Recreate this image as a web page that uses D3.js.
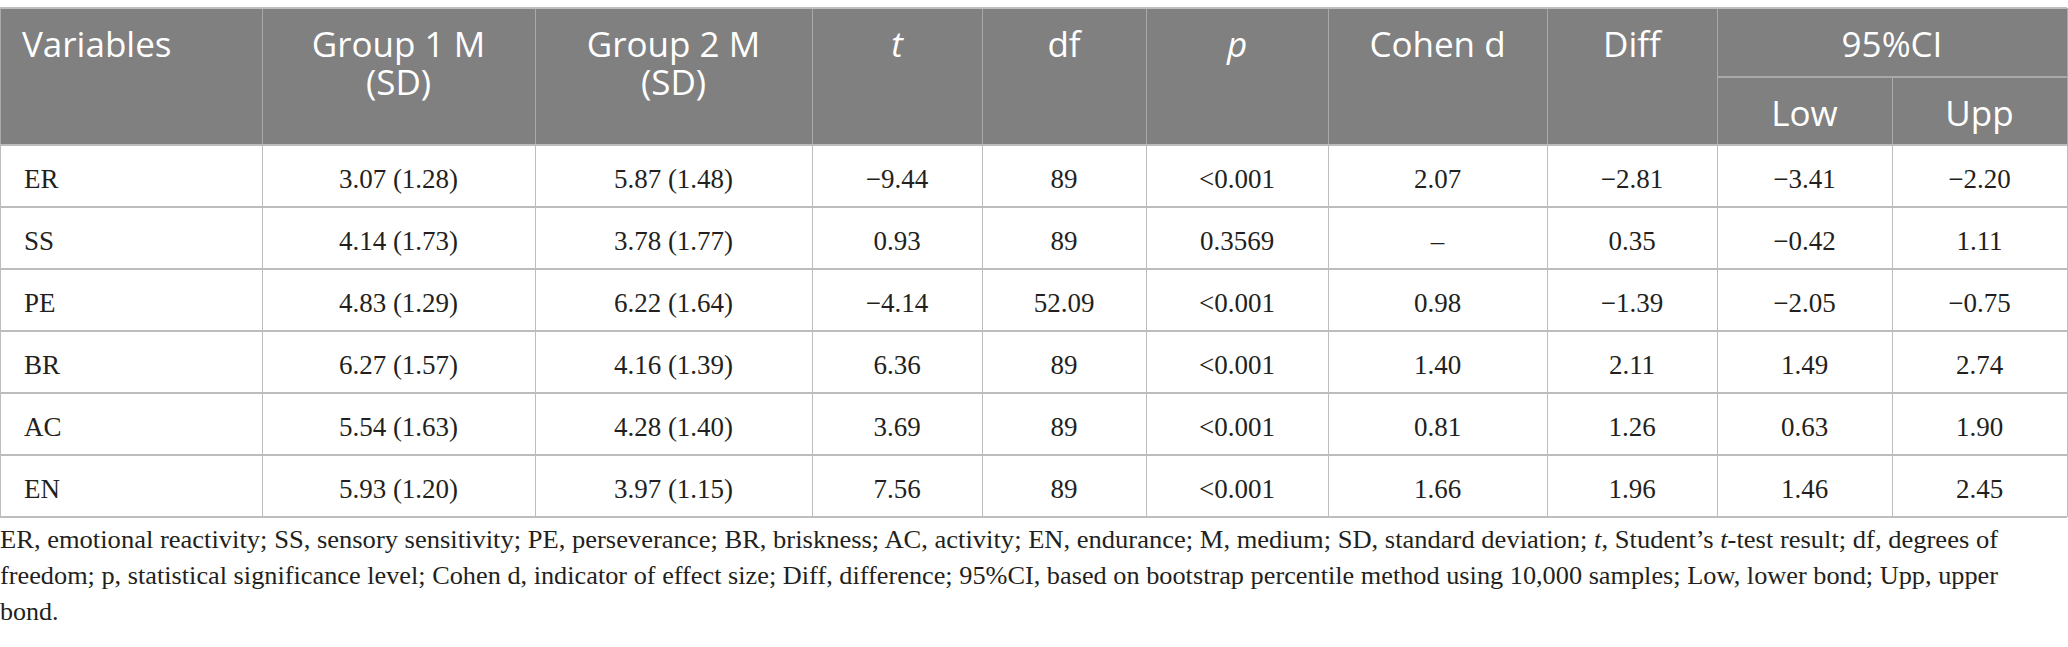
<!DOCTYPE html>
<html>
<head>
<meta charset="utf-8">
<script src="https://cdn.jsdelivr.net/npm/d3@7/dist/d3.min.js"></script>
<style>
  html, body { margin: 0; padding: 0; background: #fff; }
  svg { display: block; }
</style>
</head>
<body>
<div id="table"></div>
<script>
// table values, row by row
var variables = ['ER', 'SS', 'PE', 'BR', 'AC', 'EN'];
var group1Mean = [3.07, 4.14, 4.83, 6.27, 5.54, 5.93];
var group1SD = [1.28, 1.73, 1.29, 1.57, 1.63, 1.20];
var group2Mean = [5.87, 3.78, 6.22, 4.16, 4.28, 3.97];
var group2SD = [1.48, 1.77, 1.64, 1.39, 1.40, 1.15];
var tValues = [-9.44, 0.93, -4.14, 6.36, 3.69, 7.56];
var dfValues = ['89', '89', '52.09', '89', '89', '89'];
var pValues = ['<0.001', '0.3569', '<0.001', '<0.001', '<0.001', '<0.001'];
var cohenD = [2.07, null, 0.98, 1.40, 0.81, 1.66];
var diffValues = [-2.81, 0.35, -1.39, 2.11, 1.26, 1.96];
var ciLow = [-3.41, -0.42, -2.05, 1.49, 0.63, 1.46];
var ciUpp = [-2.20, 1.11, -0.75, 2.74, 1.90, 2.45];

// header labels (second entry = second line)
var headers = [
  ['Variables'], ['Group 1 M', '(SD)'], ['Group 2 M', '(SD)'],
  ['t'], ['df'], ['p'], ['Cohen d'], ['Diff']
];
var ciHeader = '95%CI';
var ciSubHeaders = ['Low', 'Upp'];

// footnote lines, [text, italic]
var footnote = [
  [['ER, emotional reactivity; SS, sensory sensitivity; PE, perseverance; BR, briskness; AC, activity; EN, endurance; M, medium; SD, standard deviation; ', false],
   ['t', true], [', Student\u2019s ', false], ['t', true], ['-test result; df, degrees of', false]],
  [['freedom; p, statistical significance level; Cohen d, indicator of effect size; Diff, difference; 95%CI, based on bootstrap percentile method using 10,000 samples; Low, lower bond; Upp, upper', false]],
  [['bond.', false]]
];

// layout
var width = 2068, height = 647;
var colEdges = [0, 262, 535, 812, 982, 1146, 1328, 1547, 1717, 1892, 2067];
var headTop = 8, headBottom = 145, tableBottom = 517, ciSplit = 77;
var headFont = '"Open Sans", sans-serif', bodyFont = '"Liberation Serif", "Times New Roman", serif';

var fmt2 = d3.format('.2f');
function num(v) {
  if (v == null) return '\u2013';
  return (v < 0 ? '\u2212' : '') + fmt2(Math.abs(v));
}

var rows = variables.map(function(v, i) {
  return [v,
    fmt2(group1Mean[i]) + ' (' + fmt2(group1SD[i]) + ')',
    fmt2(group2Mean[i]) + ' (' + fmt2(group2SD[i]) + ')',
    num(tValues[i]), dfValues[i], pValues[i], num(cohenD[i]),
    num(diffValues[i]), num(ciLow[i]), num(ciUpp[i])];
});

var y = d3.scaleBand().domain(variables).range([headBottom, tableBottom]);
var colMid = function(c) { return (colEdges[c] + colEdges[c + 1]) / 2; };

var svg = d3.select('#table').append('svg')
  .attr('width', width).attr('height', height);

// header background
svg.append('rect')
  .attr('x', 0).attr('y', headTop)
  .attr('width', colEdges[10]).attr('height', headBottom - headTop)
  .attr('fill', '#808080');

// grid lines
var lineColor = '#bdbdbd', headLine = '#a9a9a9';
var grid = svg.append('g').attr('stroke-width', 1.6).attr('shape-rendering', 'crispEdges');

colEdges.forEach(function(x, c) {
  if (c != 9) {
    grid.append('line').attr('x1', x + 0.5).attr('x2', x + 0.5)
      .attr('y1', headTop).attr('y2', headBottom)
      .attr('stroke', headLine);
  }
  grid.append('line').attr('x1', x + 0.5).attr('x2', x + 0.5)
    .attr('y1', headBottom).attr('y2', tableBottom)
    .attr('stroke', lineColor);
});
// split lines inside 95%CI
grid.append('line').attr('x1', colEdges[9] + 0.5).attr('x2', colEdges[9] + 0.5)
  .attr('y1', ciSplit).attr('y2', headBottom).attr('stroke', headLine);
grid.append('line').attr('x1', colEdges[8]).attr('x2', colEdges[10])
  .attr('y1', ciSplit).attr('y2', ciSplit).attr('stroke', headLine);

grid.append('line').attr('x1', 0).attr('x2', colEdges[10])
  .attr('y1', headTop).attr('y2', headTop).attr('stroke', lineColor);
variables.forEach(function(v) {
  grid.append('line').attr('x1', 0).attr('x2', colEdges[10])
    .attr('y1', y(v)).attr('y2', y(v)).attr('stroke', lineColor);
});
grid.append('line').attr('x1', 0).attr('x2', colEdges[10])
  .attr('y1', tableBottom).attr('y2', tableBottom).attr('stroke', lineColor);

// header text
var head = svg.append('g')
  .attr('font-family', headFont).attr('font-size', 35).attr('fill', '#fff');

headers.forEach(function(h, c) {
  var x = c == 0 ? 22 : colMid(c);
  var t = head.append('text')
    .attr('y', 57)
    .attr('text-anchor', c == 0 ? 'start' : 'middle')
    .attr('font-style', (h[0] == 't' || h[0] == 'p') ? 'italic' : null);
  h.forEach(function(label, k) {
    t.append('tspan').attr('x', x).attr('dy', k == 0 ? 0 : 38).text(label);
  });
});
head.append('text')
  .attr('x', (colEdges[8] + colEdges[10]) / 2).attr('y', 57)
  .attr('text-anchor', 'middle').text(ciHeader);
ciSubHeaders.forEach(function(label, k) {
  head.append('text')
    .attr('x', colMid(8 + k)).attr('y', 126)
    .attr('text-anchor', 'middle').text(label);
});

// body rows
var body = svg.append('g')
  .attr('font-family', bodyFont).attr('font-size', 27).attr('fill', '#231f20');

body.selectAll('g.row')
  .data(rows)
  .enter().append('g')
  .attr('class', 'row')
  .attr('transform', function(d, i) { return 'translate(0,' + (y(variables[i]) + 43) + ')'; })
  .selectAll('text')
  .data(function(d) { return d; })
  .enter().append('text')
  .attr('x', function(d, c) { return c == 0 ? 24 : colMid(c); })
  .attr('text-anchor', function(d, c) { return c == 0 ? 'start' : 'middle'; })
  .text(function(d) { return d; });

// footnote
var notes = svg.append('g')
  .attr('font-family', bodyFont).attr('font-size', 26).attr('fill', '#231f20');
footnote.forEach(function(line, k) {
  var t = notes.append('text').attr('x', 0).attr('y', 548 + k * 36);
  line.forEach(function(seg) {
    t.append('tspan').attr('font-style', seg[1] ? 'italic' : null).text(seg[0]);
  });
  if (k < footnote.length - 1) {
    t.attr('textLength', 1998).attr('lengthAdjust', 'spacingAndGlyphs');
  }
});
</script>
</body>
</html>
